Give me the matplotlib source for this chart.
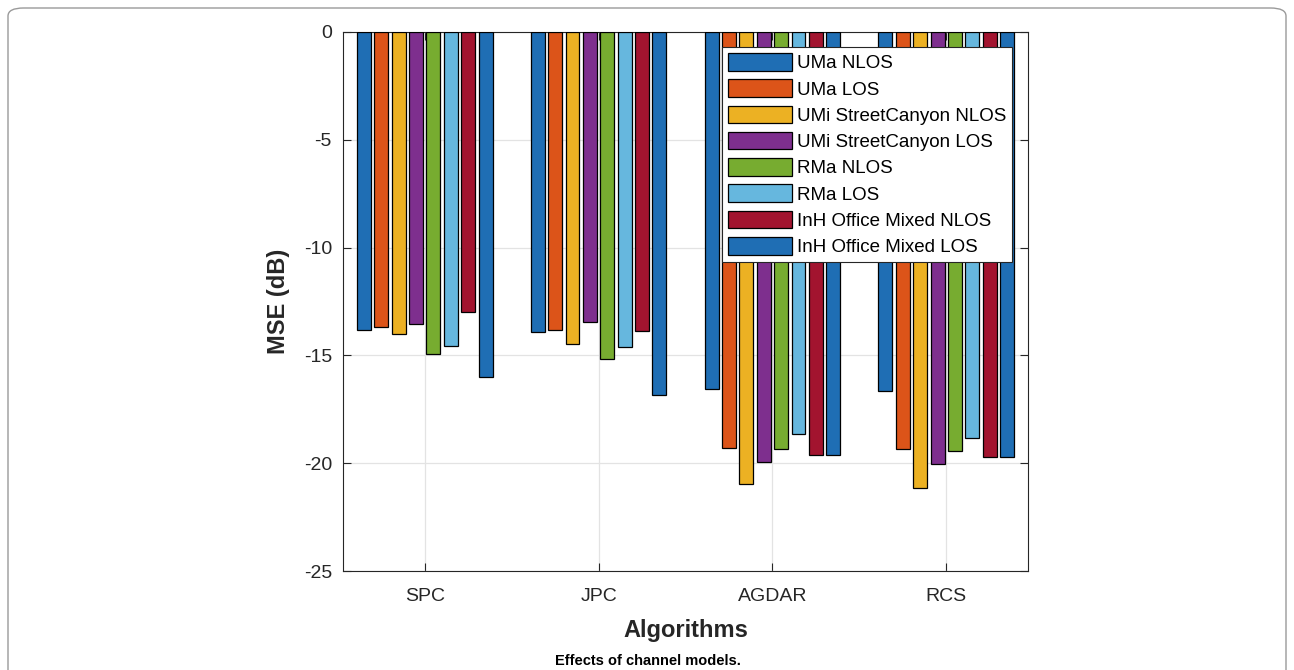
import matplotlib
matplotlib.use("Agg")
import matplotlib.pyplot as plt
import numpy as np
from matplotlib.patches import FancyBboxPatch

plt.rcParams["font.family"] = ["Liberation Sans", "DejaVu Sans"]
plt.rcParams["axes.unicode_minus"] = False

# MSE (dB) per algorithm, one list per channel model
algorithms = ["SPC", "JPC", "AGDAR", "RCS"]
uma_nlos = [-13.8, -13.9, -16.55, -16.65]
uma_los = [-13.7, -13.8, -19.3, -19.35]
umi_nlos = [-14.0, -14.45, -20.95, -21.15]
umi_los = [-13.55, -13.45, -19.95, -20.05]
rma_nlos = [-14.95, -15.15, -19.35, -19.45]
rma_los = [-14.55, -14.6, -18.65, -18.85]
inh_nlos = [-13.0, -13.85, -19.6, -19.7]
inh_los = [-16.0, -16.85, -19.6, -19.7]

series = [uma_nlos, uma_los, umi_nlos, umi_los, rma_nlos, rma_los, inh_nlos, inh_los]
names = ["UMa NLOS", "UMa LOS", "UMi StreetCanyon NLOS", "UMi StreetCanyon LOS",
         "RMa NLOS", "RMa LOS", "InH Office Mixed NLOS", "InH Office Mixed LOS"]
colors = ["#1f6eb4", "#dc5419", "#ecb123", "#7e2f8e",
          "#77ac30", "#66b7de", "#a2142f", "#1f6eb4"]

fig = plt.figure(figsize=(12.94, 6.70), dpi=100)

# rounded outer frame (open at the bottom)
frame = FancyBboxPatch((8 / 1294, -0.05), 1278 / 1294, 1.05 - 8 / 670,
                       boxstyle="round,pad=0,rounding_size=0.012",
                       transform=fig.transFigure, facecolor="none",
                       edgecolor="#9a9a9a", linewidth=1.0, zorder=0)
fig.patches.append(frame)

ax = fig.add_axes([343 / 1294, 1 - 571 / 670, 685 / 1294, 539 / 670])
x = np.arange(1, len(algorithms) + 1)
step, width = 0.1, 0.08
for i, (vals, name, c) in enumerate(zip(series, names, colors)):
    ax.bar(x + (i - 3.5) * step, vals, width, color=c, edgecolor="black",
           linewidth=0.9, label=name, zorder=3)

ax.set_xlim(0.53, 4.47)
ax.set_ylim(-25, 0)
ax.set_xticks(x)
ax.set_xticklabels(algorithms)
ax.set_yticks([-25, -20, -15, -10, -5, 0])
ax.set_yticklabels(["-25", "-20", "-15", "-10", "-5", "0"])
ax.tick_params(direction="in", length=6, width=0.8, labelsize=14,
               top=True, right=True, pad=8, colors="#262626")
ax.tick_params(axis="x", pad=12)
ax.grid(True, color="#e3e3e3", linewidth=0.9, zorder=0)
for sp in ax.spines.values():
    sp.set_color("#262626")
    sp.set_linewidth(0.8)

ax.set_xlabel("Algorithms", fontsize=17, fontweight="bold", labelpad=10,
              color="#262626")
ax.set_ylabel("MSE (dB)", fontsize=17, fontweight="bold", labelpad=10,
              color="#262626")

leg = ax.legend(loc="upper right", bbox_to_anchor=(0.977, 0.972), fontsize=13.5,
                frameon=True, fancybox=False, edgecolor="#262626",
                handlelength=3.4, handleheight=1.06, handletextpad=0.27,
                labelspacing=0.38, borderpad=0.32, borderaxespad=0)
leg.get_frame().set_linewidth(0.8)
leg.get_frame().set_alpha(1)

fig.text(648 / 1294, 1 - 661 / 670, "Effects of channel models.",
         ha="center", va="center", fontsize=10.5, fontweight="bold")

fig.savefig("out.png", dpi=100)
